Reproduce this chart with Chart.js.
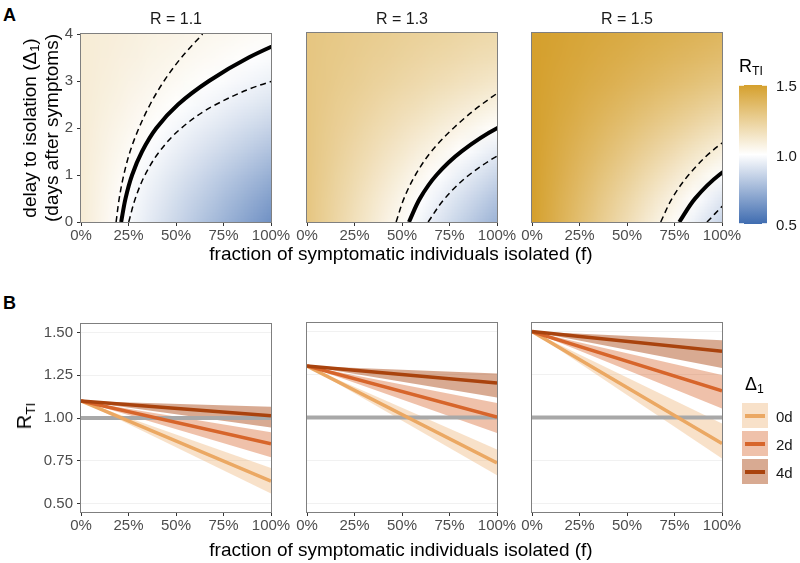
<!DOCTYPE html>
<html><head><meta charset="utf-8">
<script src="https://cdn.jsdelivr.net/npm/chart.js@4.4.0/dist/chart.umd.min.js"></script>
<style>
body{margin:0;background:#fff;width:800px;height:563px;position:relative;overflow:hidden;font-family:"Liberation Sans",Arial,sans-serif;}
.cv{position:absolute;}
.t{position:absolute;white-space:nowrap;color:#000;line-height:1;}
.rot{transform:translate(-50%,-50%) rotate(-90deg);}
.ctr{transform:translate(-50%,-50%);}
.lft{transform:translate(0,-50%);}
sub{font-size:0.68em;vertical-align:-0.28em;line-height:0;}
</style></head><body>
<script>
// ---------------- data ----------------
const reproNumbers = [1.1, 1.3, 1.5];
const panelTitles = ['R = 1.1', 'R = 1.3', 'R = 1.5'];
const delayGrid = [0, 0.5, 1, 1.5, 2, 2.5, 3, 3.5, 4];
const effMid  = [0.430, 0.388, 0.338, 0.283, 0.229, 0.178, 0.135, 0.103, 0.079];
const effHigh = [0.492, 0.452, 0.404, 0.352, 0.298, 0.250, 0.208, 0.172, 0.142];
const effLow  = [0.362, 0.318, 0.270, 0.220, 0.172, 0.128, 0.090, 0.059, 0.034];
const fractionGrid = [0, 0.05, 0.1, 0.15, 0.2, 0.25, 0.3, 0.35, 0.4, 0.45, 0.5, 0.55, 0.6, 0.65, 0.7, 0.75, 0.8, 0.85, 0.9, 0.95, 1];
const fractionTicks = [0, 0.25, 0.5, 0.75, 1];
const delayTicks = [0, 1, 2, 3, 4];
const rtiTicks = [0.5, 0.75, 1, 1.25, 1.5];
const colorbarTicks = [1.5, 1.0, 0.5];
const legendDelays = ['0d', '2d', '4d'];
const lineFractions = [0, 1];
// R_TI at f = 100% for delays 0d, 2d, 4d (per R)
const rtiEndMid   = [[0.631, 0.849, 1.013], [0.736, 1.002, 1.201], [0.849, 1.155, 1.385]];
const rtiEndUpper = [[0.707, 0.916, 1.066], [0.814, 1.085, 1.256], [0.965, 1.247, 1.449]];
const rtiEndLower = [[0.558, 0.771, 0.945], [0.664, 0.910, 1.116], [0.762, 1.052, 1.288]];

// ---------------- styles ----------------
const lineColors = ['#EBA863', '#D7652B', '#A9430E'];
const ribbonColors = ['rgba(235,168,99,0.35)', 'rgba(215,101,43,0.40)', 'rgba(169,67,14,0.45)'];
const lowCol = [63, 108, 176], midCol = [255, 255, 255], highCol = [213, 160, 45];
const panelLeft = [81, 307, 532];
const panelW = 190, panelH = 189;
const topA = 33, topB = 323;

function colorFor(v) {
  let t, b;
  if (v >= 1) { t = Math.min((v - 1) / 0.5, 1); b = highCol; }
  else { t = Math.min((1 - v) / 0.5, 1); b = lowCol; }
  return midCol.map((c, i) => Math.round(c + (b[i] - c) * t));
}

Chart.defaults.font.family = '"Liberation Sans", Arial, sans-serif';
Chart.defaults.font.size = 15;
Chart.defaults.color = '#4D4D4D';
Chart.defaults.animation = false;

const framePlugin = {
  id: 'frame',
  afterDatasetsDraw(chart) {
    const ca = chart.chartArea, ctx = chart.ctx;
    ctx.save();
    ctx.strokeStyle = '#7F7F7F'; ctx.lineWidth = 1;
    ctx.strokeRect(Math.round(ca.left) - 0.5, Math.round(ca.top) - 0.5, Math.round(ca.width) + 1, Math.round(ca.height) + 1);
    ctx.restore();
  }
};
const heatPlugin = {
  id: 'heat',
  beforeDatasetsDraw(chart, args, opts) {
    if (opts.R == null) return;
    const xs = chart.scales.x, ys = chart.scales.y, ca = chart.chartArea, ctx = chart.ctx;
    const nx = fractionGrid.length, ny = delayGrid.length;
    const off = document.createElement('canvas'); off.width = nx; off.height = ny;
    const octx = off.getContext('2d'); const img = octx.createImageData(nx, ny);
    for (let j = 0; j < ny; j++) {
      const e = effMid[ny - 1 - j];
      for (let i = 0; i < nx; i++) {
        const c = colorFor(opts.R * (1 - fractionGrid[i] * e));
        const k = (j * nx + i) * 4;
        img.data[k] = c[0]; img.data[k + 1] = c[1]; img.data[k + 2] = c[2]; img.data[k + 3] = 255;
      }
    }
    octx.putImageData(img, 0, 0);
    const dx = xs.getPixelForValue(fractionGrid[1]) - xs.getPixelForValue(fractionGrid[0]);
    const x0 = xs.getPixelForValue(fractionGrid[0]) - dx / 2, x1 = xs.getPixelForValue(fractionGrid[nx - 1]) + dx / 2;
    const dy = ys.getPixelForValue(delayGrid[0]) - ys.getPixelForValue(delayGrid[1]);
    const y0 = ys.getPixelForValue(delayGrid[ny - 1]) - dy / 2, y1 = ys.getPixelForValue(delayGrid[0]) + dy / 2;
    ctx.save();
    ctx.beginPath(); ctx.rect(ca.left, ca.top, ca.width, ca.height); ctx.clip();
    ctx.imageSmoothingEnabled = true; ctx.imageSmoothingQuality = 'low';
    ctx.drawImage(off, x0, y0, x1 - x0, y1 - y0);
    ctx.restore();
  }
};

function makeCanvas(left, top) {
  const c = document.createElement('canvas');
  c.className = 'cv';
  const w = panelW + 50 + 24, h = panelH + 12 + 30;
  c.width = w; c.height = h;
  c.style.left = (left - 50) + 'px'; c.style.top = (top - 12) + 'px';
  c.style.width = w + 'px'; c.style.height = h + 'px';
  document.body.appendChild(c);
  return c;
}
function xScaleOpts() {
  return {
    type: 'linear', min: 0, max: 1,
    afterBuildTicks: s => { s.ticks = fractionTicks.map(v => ({ value: v })); },
    afterFit: s => { s.height = 30; },
    ticks: { callback: v => Math.round(v * 100) + '%', padding: 1, maxRotation: 0, autoSkip: false },
    grid: { drawOnChartArea: false, drawTicks: true, tickLength: 4, tickColor: '#333333', tickWidth: 1 },
    border: { display: false }
  };
}

// ---------- Panel A ----------
reproNumbers.forEach((R, p) => {
  const cv = makeCanvas(panelLeft[p], topA);
  const contour = (eff) => delayGrid.map((d, i) => ({ x: (1 - 1 / R) / eff[i], y: d }));
  const common = { pointRadius: 0, cubicInterpolationMode: 'monotone', clip: 0, borderColor: '#000' };
  new Chart(cv, {
    type: 'line',
    data: {
      datasets: [
        Object.assign({ data: contour(effMid), borderWidth: 4 }, common),
        Object.assign({ data: contour(effHigh), borderWidth: 1.5, borderDash: [6, 4] }, common),
        Object.assign({ data: contour(effLow), borderWidth: 1.5, borderDash: [6, 4] }, common)
      ]
    },
    options: {
      indexAxis: 'y',
      responsive: false, devicePixelRatio: 1,
      layout: { padding: { left: 0, top: 12, right: 24, bottom: 0 } },
      parsing: false,
      plugins: { legend: { display: false }, tooltip: { enabled: false }, heat: { R: R } },
      scales: {
        x: xScaleOpts(),
        y: {
          type: 'linear', min: 0, max: 4,
          afterBuildTicks: s => { s.ticks = delayTicks.map(v => ({ value: v })); },
          afterFit: s => { s.width = 50; },
          ticks: { display: p === 0, padding: 4, callback: v => String(v) },
          grid: { drawOnChartArea: false, drawTicks: p === 0, tickLength: 4, tickColor: '#333333', tickWidth: 1 },
          border: { display: false }
        }
      }
    },
    plugins: [heatPlugin, framePlugin]
  });
});

// ---------- Panel B ----------
reproNumbers.forEach((R, p) => {
  const cv = makeCanvas(panelLeft[p], topB);
  const ds = [];
  // lines (array order: first = drawn on top)
  [2, 1, 0].forEach(k => {
    ds.push({ data: lineFractions.map((f, i) => ({ x: f, y: i === 0 ? R : rtiEndMid[p][k] })),
      borderColor: lineColors[k], borderWidth: 3.5, pointRadius: 0, fill: false, borderCapStyle: 'butt' });
  });
  ds.push({ data: lineFractions.map(f => ({ x: f, y: 1 })), borderColor: '#A8A8A8', borderWidth: 4, pointRadius: 0, fill: false });
  [2, 1, 0].forEach(k => {
    const upIdx = ds.length;
    ds.push({ data: lineFractions.map((f, i) => ({ x: f, y: i === 0 ? R : rtiEndUpper[p][k] })),
      borderWidth: 0, borderColor: 'rgba(0,0,0,0)', pointRadius: 0, fill: false });
    ds.push({ data: lineFractions.map((f, i) => ({ x: f, y: i === 0 ? R : rtiEndLower[p][k] })),
      borderWidth: 0, borderColor: 'rgba(0,0,0,0)', pointRadius: 0, fill: upIdx, backgroundColor: ribbonColors[k] });
  });
  new Chart(cv, {
    type: 'line',
    data: { datasets: ds },
    options: {
      responsive: false, devicePixelRatio: 1,
      layout: { padding: { left: 0, top: 12, right: 24, bottom: 0 } },
      parsing: false,
      plugins: { legend: { display: false }, tooltip: { enabled: false }, filler: { propagate: false } },
      scales: {
        x: xScaleOpts(),
        y: {
          type: 'linear', min: 0.45, max: 1.55,
          afterBuildTicks: s => { s.ticks = rtiTicks.map(v => ({ value: v })); },
          afterFit: s => { s.width = 50; },
          ticks: { display: p === 0, padding: 4, callback: v => v.toFixed(2) },
          grid: { drawOnChartArea: true, color: '#EDEDED', lineWidth: 0.8, drawTicks: p === 0, tickLength: 4, tickColor: '#333333', tickWidth: 1 },
          border: { display: false }
        }
      }
    },
    plugins: [framePlugin]
  });
});

// ---------- text & legends ----------
function addText(html, x, y, cls, style) {
  const d = document.createElement('div');
  d.className = 't ' + cls; d.innerHTML = html;
  d.style.left = x + 'px'; d.style.top = y + 'px';
  Object.assign(d.style, style || {});
  document.body.appendChild(d);
  return d;
}
function addBox(parent, style) {
  const d = document.createElement('div');
  Object.assign(d.style, { position: 'absolute' }, style);
  parent.appendChild(d);
  return d;
}
addText('A', 3, 15, 'lft', { fontWeight: 'bold', fontSize: '18px' });
addText('B', 3, 303, 'lft', { fontWeight: 'bold', fontSize: '18px' });
panelTitles.forEach((t, p) => addText(t, panelLeft[p] + panelW / 2, 19, 'ctr', { fontSize: '16px', color: '#1A1A1A' }));
addText('delay to isolation (Δ<sub>1</sub>)', 29, 128, 'rot', { fontSize: '19px' });
addText('(days after symptoms)', 51, 128, 'rot', { fontSize: '19px' });
addText('fraction of symptomatic individuals isolated (f)', 401, 253, 'ctr', { fontSize: '19px' });
addText('fraction of symptomatic individuals isolated (f)', 401, 549, 'ctr', { fontSize: '19px' });
addText('R<sub>TI</sub>', 24, 416, 'rot', { fontSize: '20px' });

// colorbar
const cbTop = 85, cbH = 139;
const cb = addBox(document.body, { left: '739px', top: cbTop + 'px', width: '28px', height: cbH + 'px',
  background: 'linear-gradient(to bottom, rgb(' + highCol + '), rgb(' + midCol + '), rgb(' + lowCol + '))' });
addText('R<sub>TI</sub>', 739, 66, 'lft', { fontSize: '18px' });
colorbarTicks.forEach(v => {
  const y = (1.5 - v) / 1.0 * cbH;
  const yy = Math.min(Math.max(y - 0.5, 0), cbH - 1);
  addBox(cb, { left: '0px', top: yy + 'px', width: '5px', height: '1px', background: 'rgba(255,255,255,0.8)' });
  addBox(cb, { left: '23px', top: yy + 'px', width: '5px', height: '1px', background: 'rgba(255,255,255,0.8)' });
  addText(v.toFixed(1), 776, cbTop + y, 'lft', { fontSize: '15px', color: '#1A1A1A' });
});

// legend B
addText('Δ<sub>1</sub>', 745, 384, 'lft', { fontSize: '18px' });
legendDelays.forEach((lab, k) => {
  const top = 403 + k * 28;
  const key = addBox(document.body, { left: '742px', top: top + 'px', width: '26px', height: '25px', background: ribbonColors[k] });
  addBox(key, { left: '3px', top: '11px', width: '20px', height: '3.5px', background: lineColors[k] });
  addText(lab, 776, top + 12.5, 'lft', { fontSize: '15px', color: '#1A1A1A' });
});
</script>
</body></html>
